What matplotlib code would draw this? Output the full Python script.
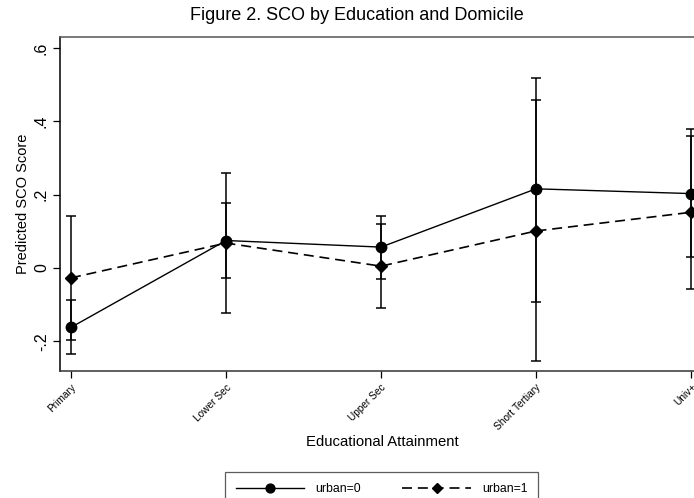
import matplotlib
matplotlib.use("Agg")
import matplotlib.pyplot as plt
import numpy as np

plt.rcParams['font.family'] = ['Liberation Sans', 'DejaVu Sans']

# data
levels = ['Primary', 'Lower Sec', 'Upper Sec', 'Short Tertiary', 'Univ+']
urban0 = [-0.162, 0.075, 0.057, 0.216, 0.203]
urban0_lo = [-0.235, -0.027, -0.031, -0.092, 0.029]
urban0_hi = [-0.086, 0.178, 0.142, 0.518, 0.378]
urban1 = [-0.027, 0.068, 0.005, 0.101, 0.152]
urban1_lo = [-0.197, -0.122, -0.110, -0.255, -0.058]
urban1_hi = [0.142, 0.258, 0.120, 0.458, 0.360]

x = np.arange(1, len(levels) + 1)

fig = plt.figure(figsize=(6.94, 4.98), dpi=100)
W, H = 694, 498
# plot region runs a bit past the right edge (the original was cropped)
ax = fig.add_axes([60 / W, 1 - 371 / H, (703 - 60) / W, (371 - 36.7) / H])

lw = 1.1
ax.errorbar(x, urban0, yerr=[np.subtract(urban0, urban0_lo), np.subtract(urban0_hi, urban0)],
            fmt='none', ecolor='black', elinewidth=lw, capsize=3.6, capthick=lw, zorder=2)
ax.errorbar(x, urban1, yerr=[np.subtract(urban1, urban1_lo), np.subtract(urban1_hi, urban1)],
            fmt='none', ecolor='black', elinewidth=lw, capsize=3.6, capthick=lw, zorder=2)
ax.plot(x, urban0, color='black', lw=1.0, marker='o', markersize=7.5, label='urban=0', zorder=3)
ax.plot(x, urban1, color='black', lw=1.2, ls=(0, (6, 3.5)), marker='D', markersize=6.5,
        label='urban=1', zorder=3)

ax.set_xlim(1 - 11 / 155, 1 - 11 / 155 + (703 - 60) / 155)
ax.set_ylim(-0.281, 0.631)
ax.set_yticks([-0.2, 0, 0.2, 0.4, 0.6])
ax.set_yticklabels(['-.2', '0', '.2', '.4', '.6'], rotation=90, va='center', fontsize=11.5)
ax.set_xticks(x)
ax.set_xticklabels(levels, rotation=45, ha='right', rotation_mode='anchor', fontsize=7.3)
ax.tick_params(axis='both', direction='out', length=5, width=0.9, color='black')
ax.tick_params(axis='y', pad=3)
ax.tick_params(axis='x', pad=3)
for s in ['top', 'bottom', 'left', 'right']:
    ax.spines[s].set_linewidth(1.1)
ax.spines['top'].set_color('#555555')
ax.spines['bottom'].set_color('#333333')

ax.set_ylabel('Predicted SCO Score', fontsize=10.5, labelpad=3)
fig.text(382 / W, 1 - 442 / H, 'Educational Attainment', ha='center', va='center', fontsize=10.7)
fig.text(357 / W, 1 - 16 / H, 'Figure 2. SCO by Education and Domicile', ha='center',
         va='center', fontsize=13)

leg = fig.legend(loc='upper center', bbox_to_anchor=(381.5 / W, 1 - 466 / H), ncol=2,
                 fontsize=8.8, frameon=True, fancybox=False, edgecolor='#333333',
                 handlelength=5.6, handletextpad=0.9, columnspacing=3.4, borderpad=0.9,
                 markerscale=0.85)
leg.get_frame().set_linewidth(0.9)

fig.savefig('out.png', dpi=100, facecolor='white')
